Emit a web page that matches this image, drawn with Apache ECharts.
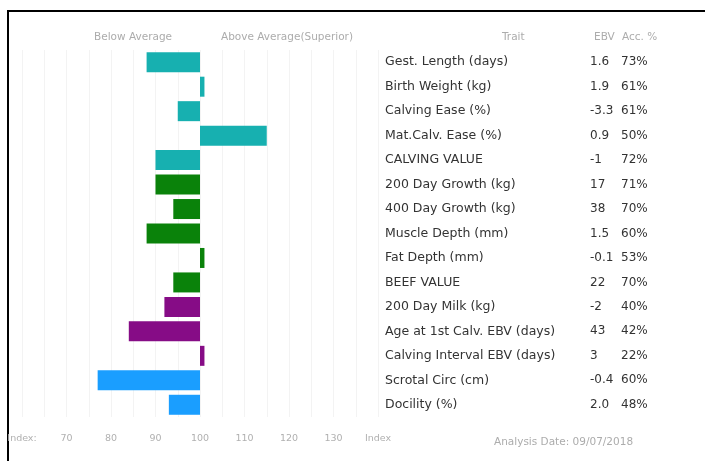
<!DOCTYPE html>
<html>
<head>
<meta charset="utf-8">
<script src="https://cdn.jsdelivr.net/npm/echarts@6/dist/echarts.min.js"></script>
<style>
html,body{margin:0;padding:0;background:#fff;}
#chart{width:705px;height:461px;}
</style>
</head>
<body>
<div id="chart"></div>
<script>
// ---- data ----
const traits = ['Gest. Length (days)','Birth Weight (kg)','Calving Ease (%)','Mat.Calv. Ease (%)','CALVING VALUE','200 Day Growth (kg)','400 Day Growth (kg)','Muscle Depth (mm)','Fat Depth (mm)','BEEF VALUE','200 Day Milk (kg)','Age at 1st Calv. EBV (days)','Calving Interval EBV (days)','Scrotal Circ (cm)','Docility (%)'];
const ebv = ['1.6','1.9','-3.3','0.9','-1','17','38','1.5','-0.1','22','-2','43','3','-0.4','2.0'];
const acc = ['73%','61%','61%','50%','72%','71%','70%','60%','53%','70%','40%','42%','22%','60%','48%'];
const indexValues = [88,101,95,115,90,90,94,88,101,94,92,84,101,77,93];
const traitGroup = ['calving','calving','calving','calving','calving','growth','growth','growth','growth','growth','maternal','maternal','maternal','other','other'];
const baseIndex = 100;
const tickLabels = {60:'Index:',70:'70',80:'80',90:'90',100:'100',110:'110',120:'120',130:'130',140:'Index'};
const headerLeft = 'Below Average';
const headerRight = 'Above Average(Superior)';
const tableHeaders = ['Trait','EBV','Acc. %'];
const analysisDate = 'Analysis Date: 09/07/2018';

// ---- styles ----
const groupColors = {calving:'#17B0B0', growth:'#0A820A', maternal:'#860C86', other:'#1A9EFF'};
const FONT = 'DejaVu Sans';
const HFONT = 'DejaVu Sans';

const chart = echarts.init(document.getElementById('chart'), null, {renderer:'canvas'});
const hStyle = {fontSize:10.5, fontWeight:'normal', color:'#acacac', fontFamily:HFONT};
const option = {
  animation:false,
  grid:{left:22, right:327, top:50, bottom:44, containLabel:false},
  xAxis:{
    type:'value', min:-40, max:40, interval:5,
    axisLine:{show:false}, axisTick:{show:false},
    splitLine:{show:true, lineStyle:{color:'#f3f3f3', width:1}},
    axisLabel:{
      margin:17, color:'#b0b0b0', fontSize:9.5, fontFamily:HFONT,
      formatter:function(v){ const k = Math.round(v+baseIndex); return tickLabels[k] !== undefined ? tickLabels[k] : ''; }
    }
  },
  yAxis:{
    type:'category', data:traits, inverse:true, position:'right',
    axisLine:{show:false}, axisTick:{show:false}, splitLine:{show:false},
    axisLabel:{
      margin:7, align:'left',
      formatter:function(val, idx){ return '{t|'+val+'}{e|'+ebv[idx]+'}{a|'+acc[idx]+'}'; },
      rich:{
        t:{width:205, fontSize:12.5, color:'#333', fontFamily:FONT},
        e:{width:31, fontSize:12, color:'#333', fontFamily:FONT},
        a:{fontSize:12, color:'#333', fontFamily:FONT}
      }
    }
  },
  title:[
    {text:headerLeft, left:89, top:27, textStyle:hStyle},
    {text:headerRight, left:216, top:27, textStyle:hStyle},
    {text:tableHeaders[0], left:497, top:27, textStyle:hStyle},
    {text:tableHeaders[1], left:589, top:27, textStyle:hStyle},
    {text:tableHeaders[2], left:617, top:27, textStyle:hStyle},
    {text:analysisDate, left:489, top:432, textStyle:hStyle}
  ],
  graphic:[
    {type:'rect', shape:{x:8, y:11, width:800, height:600}, style:{fill:'none', stroke:'#000', lineWidth:2}, silent:true}
  ],
  series:[{
    type:'bar',
    barWidth:20,
    data:indexValues.map(function(v,i){ return {value:v-baseIndex, itemStyle:{color:groupColors[traitGroup[i]]}}; })
  }]
};
chart.setOption(option);
</script>
</body>
</html>
